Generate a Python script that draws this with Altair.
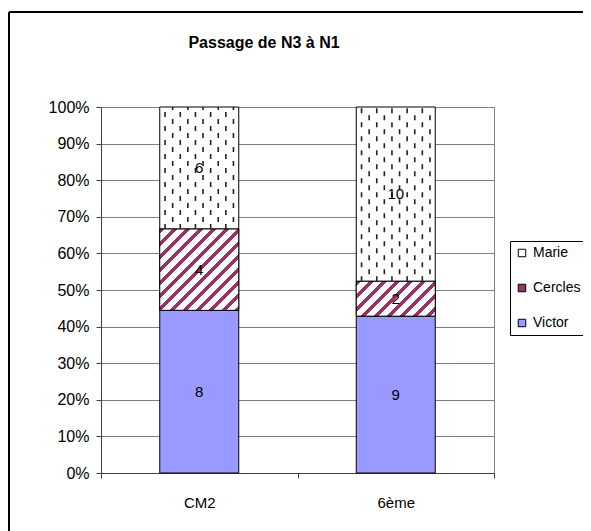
import math
import altair as alt
import pandas as pd

# ---- data ----
categories = ["CM2", "6ème"]
series_names = ["Victor", "Cercles", "Marie"]   # bottom -> top
victor = [8, 9]
cercles = [4, 2]
marie = [6, 10]
y_ticks = [0, 0.1, 0.2, 0.3, 0.4, 0.5, 0.6, 0.7, 0.8, 0.9, 1.0]
title_text = "Passage de N3 à N1"

W, H = 393, 366
BAR = 79
FONT = "Liberation Sans"
MAROON = "#993366"
BLUE = "#9999FF"

rows = []
for i, c in enumerate(categories):
    for o, (s, vals) in enumerate(zip(series_names, [victor, cercles, marie])):
        rows.append(dict(cat=c, series=s, value=vals[i], ord=o))
df = pd.DataFrame(rows)

base = (
    alt.Chart(df)
    .transform_joinaggregate(total="sum(value)", groupby=["cat"])
    .transform_stack(stack="value", groupby=["cat"], as_=["v0", "v1"],
                     sort=[alt.SortField("ord", order="ascending")])
    .transform_calculate(p0="datum.v0/datum.total", p1="datum.v1/datum.total",
                         mid="(datum.v0+datum.v1)/2/datum.total")
)

x_axis = alt.Axis(title=None, tickBand="extent", labelAngle=0, grid=False,
                  tickSize=5, labelPadding=17, labelFontSize=15)
y_axis = alt.Axis(title=None, format="%", values=y_ticks, grid=True,
                  labelOverlap=False, tickSize=5, labelPadding=7, labelFontSize=16)
x_scale = alt.Scale(paddingInner=0, paddingOuter=0)
y_scale = alt.Scale(domain=[0, 1], nice=False)

x = alt.X("cat:N", sort=categories, scale=x_scale, axis=x_axis)
y = alt.Y("p0:Q", scale=y_scale, axis=y_axis)
y_mid = alt.Y("mid:Q", scale=y_scale, axis=y_axis)

bars = base.mark_bar(size=BAR, stroke="black", strokeWidth=1).encode(
    x=x, y=y, y2="p1:Q",
    color=alt.Color("series:N",
                    scale=alt.Scale(domain=["Marie", "Cercles", "Victor"],
                                    range=["white", MAROON, BLUE]),
                    legend=alt.Legend(title=None, orient="none", legendX=409, legendY=134,
                                      strokeColor="black", fillColor="white", padding=5,
                                      symbolType="square", symbolSize=56,
                                      symbolStrokeColor="black", symbolStrokeWidth=1,
                                      labelFont=FONT, labelFontSize=14, labelColor="black",
                                      rowPadding=21, labelOffset=4)),
)

layers = [bars]

# diagonal stripes for "Cercles" segments (linear gradient with hard stops)
totals = [v + c + m for v, c, m in zip(victor, cercles, marie)]
for i, c in enumerate(categories):
    w = BAR
    h = cercles[i] / totals[i] * H
    s = (1 / h + 1 / w) / (1 / h ** 2 + 1 / w ** 2)
    n = (w + h) / 13.0
    stops = []
    k = 0
    while k / n < 1:
        a, b, e = k / n, (k + 0.4) / n, (k + 1) / n
        stops += [dict(offset=min(a, 1), color=MAROON), dict(offset=min(b, 1), color=MAROON),
                  dict(offset=min(b, 1), color="white"), dict(offset=min(e, 1), color="white")]
        k += 1
    grad = alt.LinearGradient(gradient="linear", x1=0, y1=0, x2=s / h, y2=s / w,
                              stops=[alt.GradientStop(**st) for st in stops])
    layers.append(
        base.transform_filter(f"datum.series=='Cercles' && datum.cat=='{c}'")
        .mark_bar(size=BAR, stroke="black", strokeWidth=1, fill=grad)
        .encode(x=x, y=y, y2="p1:Q")
    )

# dashed pattern for "Marie" segments
for k in range(10):
    layers.append(
        base.transform_filter("datum.series=='Marie'")
        .mark_rule(xOffset=-34.2 + 7.6 * k, strokeDash=[5, 9],
                   strokeDashOffset=(7 if k % 2 else 0), color="#222222", strokeWidth=1.6)
        .encode(x=x, y=y, y2="p1:Q")
    )

labels = base.mark_text(font=FONT, fontSize=15, color="black").encode(
    x=x, y=y_mid, text="value:Q")
layers.append(labels)

one = alt.Data(values=[{"a": 1}])
layers.append(alt.Chart(one).mark_rule(color="black", strokeWidth=2).encode(
    x=alt.value(-92), y=alt.value(-95), y2=alt.value(H + 80)))
layers.append(alt.Chart(one).mark_rule(color="black", strokeWidth=2).encode(
    x=alt.value(-92), x2=alt.value(W + 120), y=alt.value(-95)))
layers.append(alt.Chart(one).mark_text(font=FONT, fontSize=16, fontWeight="bold",
                                       color="black", align="center", baseline="middle").encode(
    x=alt.value(163), y=alt.value(-64), text=alt.value(title_text)))

chart = (
    alt.layer(*layers)
    .properties(
        width=W, height=H,
        padding={"left": 93, "top": 99, "right": 89, "bottom": 58},
        autosize=alt.AutoSizeParams(type="none"),
    )
    .configure_axis(labelFont=FONT, labelColor="black",
                    domainColor="#404040", tickColor="#404040",
                    gridColor="#808080", gridOpacity=1)
    .configure_view(stroke="#808080", strokeWidth=1)
)

chart.save("out.html", embed_options={"renderer": "svg", "actions": False})
